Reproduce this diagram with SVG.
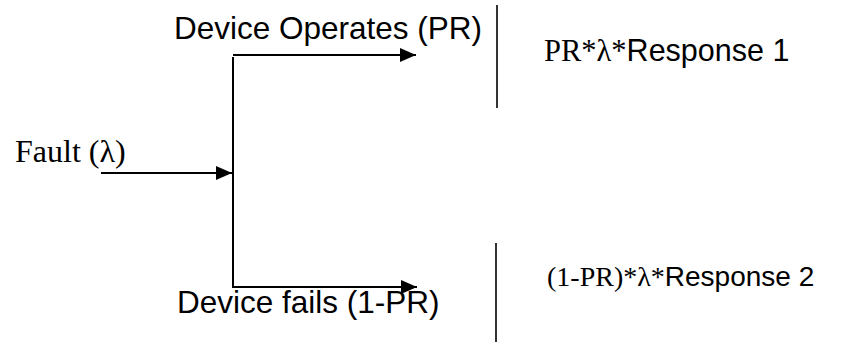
<svg xmlns="http://www.w3.org/2000/svg" width="846" height="343" viewBox="0 0 846 343">
<style>
.sans{font-family:"Liberation Sans",Arial,sans-serif;font-size:31.5px;fill:#000}
.serif{font-family:"Liberation Serif","Times New Roman",serif;font-size:31.5px;fill:#000}
.r1{font-size:30.5px}
.r2{font-size:28px}
.ln{stroke:#000;stroke-width:2;fill:none}
.bar{stroke:#000;stroke-width:1.6;fill:none}
</style>
<defs>
<marker id="ah" viewBox="0 0 16 14" refX="16" refY="7" markerWidth="16" markerHeight="14" markerUnits="userSpaceOnUse" orient="auto">
<path d="M0,0 L16,7 L0,14 Z" fill="#000"/>
</marker>
</defs>
<g id="connectors">
<line class="ln" x1="101" y1="173" x2="232" y2="173" marker-end="url(#ah)"/>
<polyline class="ln" points="233,57 233,287 417,287" marker-end="url(#ah)"/>
<line class="ln" x1="233" y1="55" x2="416" y2="55" marker-end="url(#ah)"/>
</g>
<g id="fault"><text class="serif" x="15" y="162" style="font-size:32px">Fault (λ)</text></g>
<g id="operates"><text class="sans" x="174" y="39">Device Operates (PR)</text></g>
<g id="fails"><text class="sans" x="177" y="313">Device fails (1-PR)</text></g>
<g id="result1">
<line class="bar" x1="497" y1="5" x2="497" y2="108"/>
<text x="544" y="61"><tspan class="serif r1">PR*λ*</tspan><tspan class="sans r1">Response 1</tspan></text>
</g>
<g id="result2">
<line class="bar" x1="496" y1="243" x2="496" y2="342"/>
<text x="547" y="286"><tspan class="serif r2">(1-PR)*λ*</tspan><tspan class="sans r2">Response 2</tspan></text>
</g>
</svg>
